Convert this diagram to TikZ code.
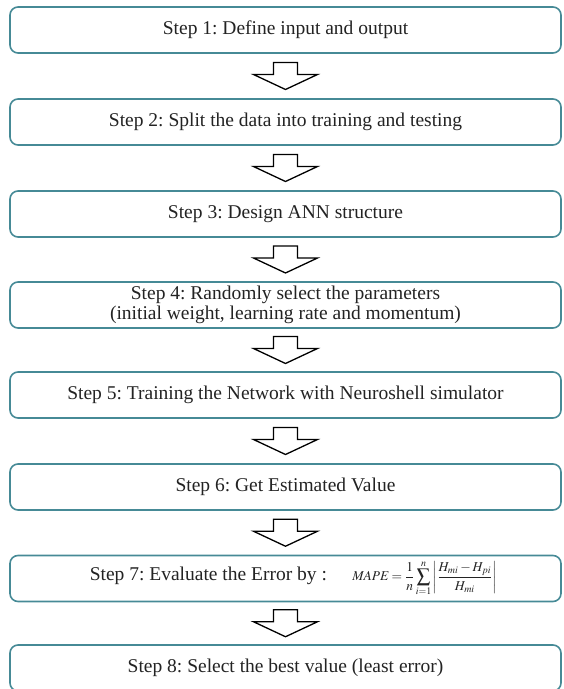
\documentclass[tikz,border=0pt]{standalone}
\usepackage{mathptmx}
\usepackage{fontspec}
\setmainfont{Liberation Serif}
\usetikzlibrary{calc}
\definecolor{boxteal}{RGB}{70,138,150}
\definecolor{steptext}{RGB}{35,35,35}
\frenchspacing

\tikzset{
  stepbox/.style={draw=boxteal, line width=1.6pt, rounded corners=8pt,
    minimum width=551pt, minimum height=46pt, inner sep=0pt,
    align=center, text=steptext, font=\fontsize{19.5}{19.5}\selectfont},
  blockarrow/.style={draw=black, line width=1.3pt, fill=white, line join=miter}
}

\begin{document}
\begin{tikzpicture}[x=1pt,y=1pt]
  \useasboundingbox (0,0) rectangle (563,689);
  % the eight steps
  \node[stepbox] (s1) at (285.5,659) {Step 1: Define input and output};
  \node[stepbox] (s2) at (285.5,567) {Step 2: Split the data into training and testing};
  \node[stepbox] (s3) at (285.5,475) {Step 3: Design ANN structure};
  \node[stepbox] (s4) at (285.5,384) {Step 4: Randomly select the parameters\\(initial weight, learning rate and momentum)};
  \node[stepbox] (s5) at (285.5,294) {Step 5: Training the Network with Neuroshell simulator};
  \node[stepbox] (s6) at (285.5,202) {Step 6: Get Estimated Value};
  \node[stepbox] (s7) at (285.5,110.5) {\hspace{0.8em}Step 7: Evaluate the Error by :\hspace{1.3em}%
    {\fontsize{13.5}{15}\selectfont$\displaystyle \mathit{MAPE}=\frac{1}{n}\sum_{i=1}^{n}\left|\frac{H_{mi}-H_{pi}}{H_{mi}}\right|$}};
  \node[stepbox] (s8) at (285.5,21) {Step 8: Select the best value (least error)};
  % block arrows between the steps
  \foreach \a/\b in {s1/s2,s2/s3,s3/s4,s4/s5,s5/s6,s6/s7,s7/s8}{
    \coordinate (m) at ($(\a.south)!0.5!(\b.north)$);
    \draw[blockarrow] ($(m)+(-12,13.5)$) -- ++(24,0) -- ++(0,-12) -- ++(20,0)
      -- ++(-32,-15) -- ++(-32,15) -- ++(20,0) -- cycle;}
\end{tikzpicture}
\end{document}
